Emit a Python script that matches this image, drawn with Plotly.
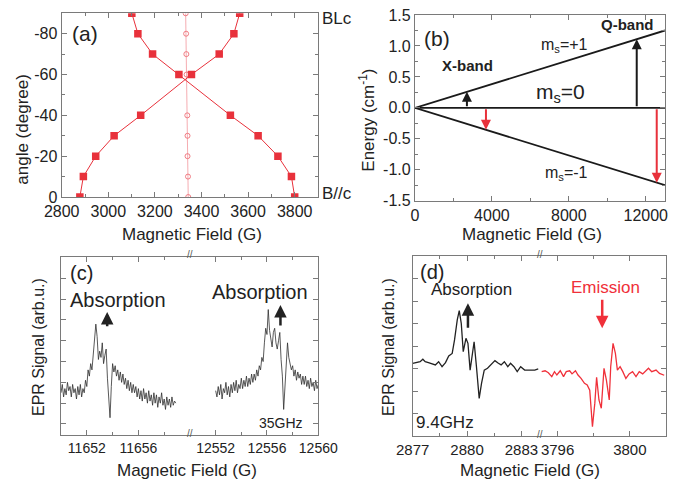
import plotly.graph_objects as go

# page body has an 8px margin: figure is placed at (8, 8) in the 685x481 window
OFF = 8
W, H = 685 - OFF, 481 - OFF
def px(x): return (x - OFF) / W
def py(y): return 1 - (y - OFF) / H

FONT = "Liberation Sans, Arial, sans-serif"
RED = "#e8313b"
AX = "#7a7a7a"
TXT = "#222222"

# ---------------- Panel (a) data ----------------
angle = [0, -10, -20, -30, -40, -60, -70, -80, -90]
field_branch1 = [2878, 2893, 2946, 3025, 3139, 3357, 3476, 3539, 3564]
field_branch2 = [3800, 3786, 3728, 3643, 3524, 3303, 3190, 3127, 3101]
field_center = [3343, 3342, 3340, 3340, 3339, 3336, 3335, 3334, 3332]
a_yticks = [0, -20, -40, -60, -80]
a_yticktext = ["0", "-20", "-40", "-60", "-80"]

# ---------------- Panel (b) data ----------------
b_field = [0, 13000]
e_plus = [0, 1.25]
e_zero = [0, 0]
e_minus = [0, -1.25]
xband_up = 2700
xband_down = 3690
qband_up = 11530
qband_down = 12570
b_yticks = [-1.5, -1.0, -0.5, 0.0, 0.5, 1.0, 1.5]
b_yticktext = ["-1.5", "-1.0", "-0.5", "0.0", "0.5", "1.0", "1.5"]

# ---------------- Panel (c) data (35 GHz) ----------------
c_left_field = [round(11650 + 0.1 * i, 1) for i in range(90)]
c_left_signal = [
    1.5, 1.9, 1.3, 1.7, 1.4, 2.0, 1.6, 1.8, 1.3, 1.9,
    1.5, 1.7, 1.2, 1.8, 1.4, 1.9, 1.3, 1.7, 1.5, 2.1,
    1.8, 2.6, 2.3, 2.9, 2.6, 3.4, 4.1, 4.8, 4.2, 3.1,
    3.5, 3.2, 3.9, 2.9, 3.3, 3.6, 2.2, 1.2, 0.3, 1.8,
    2.9, 2.5, 2.8, 2.3, 2.6, 2.1, 2.5, 2.0, 2.4, 1.9,
    2.2, 1.7, 2.1, 1.6, 2.0, 1.5, 1.9, 1.5, 1.8, 1.3,
    1.7, 1.2, 1.6, 1.1, 1.7, 1.2, 1.5, 1.0, 1.6, 1.1,
    1.4, 0.9, 1.5, 1.0, 1.4, 0.8, 1.3, 1.0, 1.5, 0.9,
    1.2, 0.7, 1.3, 0.9, 1.2, 0.8, 1.3, 0.9, 1.1, 1.0,
]
c_right_field = [round(12552 + 0.1 * i, 1) for i in range(81)]
c_right_signal = [
    1.6, 1.3, 1.8, 1.4, 1.9, 1.2, 1.7, 1.5, 2.0, 1.4,
    1.8, 1.3, 1.9, 1.5, 2.0, 1.6, 2.1, 1.5, 1.9, 1.7,
    2.2, 1.7, 2.1, 1.8, 2.3, 1.8, 2.2, 1.9, 2.4, 2.0,
    2.4, 2.1, 2.6, 2.3, 2.8, 2.6, 3.2, 3.0, 3.9, 4.6,
    4.3, 5.5, 4.5, 4.0, 3.7, 4.4, 4.6, 3.9, 3.6, 4.0,
    4.4, 3.1, 2.3, 0.7, 2.0, 3.3, 3.9, 3.2, 2.9, 2.6,
    2.8, 2.3, 2.6, 2.1, 2.5, 2.2, 2.4, 1.9, 2.3, 1.9,
    2.3, 1.8, 2.1, 1.7, 2.2, 1.8, 2.0, 1.6, 2.1, 1.7,
    1.9,
]
c_left_ticks = [11652, 11656]
c_right_ticks = [12552, 12556, 12560]
c_yticks = [0, 1, 2, 3, 4, 5, 6, 7, 8]

# ---------------- Panel (d) data (9.4 GHz) ----------------
d_abs_field = [2877.0, 2877.22, 2877.41, 2877.56, 2877.69, 2877.87, 2878.06, 2878.25,
               2878.43, 2878.62, 2878.81, 2878.99, 2879.18, 2879.31, 2879.46, 2879.57,
               2879.68, 2879.79, 2879.94, 2880.05, 2880.17, 2880.39, 2880.52, 2880.67,
               2880.80, 2880.95, 2881.13, 2881.32, 2881.54, 2881.73, 2881.88, 2882.06,
               2882.25, 2882.40, 2882.59, 2882.77, 2882.96, 2883.18, 2883.46, 2883.74,
               2883.93]
d_abs_signal = [3.23, 3.26, 3.30, 3.41, 3.30, 3.26, 3.20, 3.16,
                3.30, 3.08, 3.26, 3.56, 3.67, 4.27, 5.16, 5.57,
                5.01, 3.75, 4.34, 4.12, 2.93, 4.19, 3.08, 1.67,
                2.34, 2.93, 3.01, 3.16, 3.35, 3.23, 3.16, 3.30,
                3.08, 3.23, 3.08, 2.86, 3.08, 2.93, 2.93, 2.93,
                2.98]
d_em_field = [3795.12, 3795.31, 3795.49, 3795.68, 3795.83, 3795.96, 3796.15, 3796.33,
              3796.48, 3796.67, 3796.80, 3796.99, 3797.13, 3797.30, 3797.49, 3797.64,
              3797.78, 3797.93, 3798.06, 3798.16, 3798.29, 3798.42, 3798.57, 3798.70,
              3798.86, 3798.94, 3799.07, 3799.20, 3799.31, 3799.46, 3799.61, 3799.78,
              3799.96, 3800.15, 3800.34, 3800.52, 3800.71, 3800.89, 3801.03, 3801.21,
              3801.45, 3801.64, 3801.9]
d_em_signal = [2.86, 2.90, 2.81, 2.64, 2.86, 2.71, 2.90, 2.64,
               2.86, 2.90, 2.76, 2.90, 2.71, 2.56, 2.34, 2.27,
               2.04, 0.41, 1.45, 2.61, 1.60, 1.23, 3.01, 2.49,
               1.60, 3.08, 4.12, 3.67, 2.93, 3.08, 2.86, 2.56,
               2.76, 2.86, 2.64, 2.86, 2.76, 2.90, 3.01, 2.86,
               2.93, 2.78, 2.70]
d_left_ticks = [2877, 2880, 2883]
d_right_ticks = [3796, 3800]
d_yticks = [1, 2, 3, 4, 5, 6, 7]

fig = go.Figure()

# (a)
fig.add_trace(go.Scatter(x=field_center, y=angle, mode="lines+markers", xaxis="x", yaxis="y",
                         line=dict(color="#f4a3a8", width=0.9),
                         marker=dict(symbol="circle-open", size=5, color="#ee6f77", line=dict(width=0.9)),
                         showlegend=False))
for fb in (field_branch1, field_branch2):
    fig.add_trace(go.Scatter(x=fb, y=angle, mode="lines+markers", xaxis="x", yaxis="y",
                             line=dict(color=RED, width=1),
                             marker=dict(symbol="square", size=7.5, color=RED),
                             showlegend=False))

# (b)
for e in (e_plus, e_zero, e_minus):
    fig.add_trace(go.Scatter(x=b_field, y=e, mode="lines", xaxis="x2", yaxis="y2",
                             line=dict(color="#1a1a1a", width=1.8), showlegend=False))

# (c)
fig.add_trace(go.Scatter(x=c_left_field, y=c_left_signal, mode="lines", xaxis="x3", yaxis="y3",
                         line=dict(color="#2e2e2e", width=0.8), showlegend=False))
fig.add_trace(go.Scatter(x=c_right_field, y=c_right_signal, mode="lines", xaxis="x4", yaxis="y4",
                         line=dict(color="#2e2e2e", width=0.8), showlegend=False))

# (d)
fig.add_trace(go.Scatter(x=d_abs_field, y=d_abs_signal, mode="lines", xaxis="x5", yaxis="y5",
                         line=dict(color="#222222", width=1.3), showlegend=False))
fig.add_trace(go.Scatter(x=d_em_field, y=d_em_signal, mode="lines", xaxis="x6", yaxis="y6",
                         line=dict(color="#f0303a", width=1.3), showlegend=False))


def axstyle(size, **kw):
    d = dict(showline=True, linecolor=AX, linewidth=1.2, ticks="inside", ticklen=5,
             tickcolor=AX, tickwidth=1, showgrid=False, zeroline=False, automargin=False,
             tickformat="d", tickangle=0,
             tickfont=dict(size=size, color=TXT, family=FONT))
    d.update(kw)
    return d

def minor(dt, t0=0):
    return dict(ticks="inside", ticklen=3, tickcolor=AX, tickmode="linear", tick0=t0, dtick=dt,
                showgrid=False)

fig.update_layout(
    template="none",
    width=W, height=H, autosize=False,
    margin=dict(l=0, r=0, t=0, b=0, pad=0),
    paper_bgcolor="white", plot_bgcolor="white",
    font=dict(family=FONT, color=TXT),
    xaxis=axstyle(16, domain=[px(61.7), px(318)], anchor="y", range=[2800, 3900],
                  tick0=2800, dtick=200, minor=minor(100), mirror="ticks"),
    yaxis=axstyle(16, domain=[py(197), py(13.3)], anchor="x", range=[0, -90],
                  tickmode="array", tickvals=a_yticks, ticktext=a_yticktext,
                  minor=minor(10), mirror="ticks"),
    xaxis2=axstyle(16, domain=[px(415), px(665)], anchor="y2", range=[0, 13000],
                   tick0=0, dtick=4000, minor=minor(2000), mirror="ticks"),
    yaxis2=axstyle(16, domain=[py(200.7), py(15)], anchor="x2", range=[-1.5, 1.5],
                   tickmode="array", tickvals=b_yticks, ticktext=b_yticktext,
                   minor=minor(0.25), mirror="ticks"),
    xaxis3=axstyle(14, domain=[px(61), px(190)], anchor="y3", range=[11650, 11660],
                   tickmode="array", tickvals=c_left_ticks, minor=minor(2, 11650), mirror="ticks"),
    yaxis3=axstyle(14, domain=[py(435), py(256.7)], anchor="x3", range=[-0.53, 8.04],
                   tickmode="array", tickvals=c_yticks, showticklabels=False, mirror=False),
    xaxis4=axstyle(14, domain=[px(190), px(318.3)], anchor="y4", range=[12550, 12560],
                   tickmode="array", tickvals=c_right_ticks, minor=minor(2, 12550), mirror="ticks"),
    yaxis4=axstyle(14, domain=[py(435), py(256.7)], anchor="x4", side="right", range=[-0.53, 8.04],
                   tickmode="array", tickvals=c_yticks, showticklabels=False, mirror=False),
    xaxis5=axstyle(15, domain=[px(412.7), px(539.5)], anchor="y5", range=[2877, 2884],
                   tickmode="array", tickvals=d_left_ticks, minor=minor(1.5, 2877), mirror="ticks"),
    yaxis5=axstyle(15, domain=[py(436), py(256)], anchor="x5", range=[0, 8],
                   tickmode="array", tickvals=d_yticks, showticklabels=False, mirror=False),
    xaxis6=axstyle(15, domain=[px(539.5), px(666)], anchor="y6", range=[3795, 3802],
                   tickmode="array", tickvals=d_right_ticks, minor=minor(2, 3796), mirror="ticks"),
    yaxis6=axstyle(15, domain=[py(436), py(256)], anchor="x6", side="right", range=[0, 8],
                   tickmode="array", tickvals=d_yticks, showticklabels=False, mirror=False),
)

ann = []
def text(x, y, s, size, color=TXT, angle=0, bold=False):
    ann.append(dict(x=px(x), y=py(y), xref="paper", yref="paper",
                    text=("<b>%s</b>" % s if bold else s),
                    showarrow=False, xanchor="center", yanchor="middle", textangle=angle,
                    font=dict(size=size, color=color, family=FONT)))

# Panel (a) text
text(85, 33, "(a)", 21)
text(21.7, 129, "angle (degree)", 17, angle=-90)
text(191.7, 234, "Magnetic Field (G)", 17)
text(337, 18, "BLc", 17)
text(337, 193.3, "B//c", 17)

# Panel (b) text
text(436.7, 38.3, "(b)", 21)
text(366.7, 120, "Energy (cm<sup>-1</sup>)", 17, angle=-90)
text(531.7, 234, "Magnetic Field (G)", 17)
text(467, 65.7, "X-band", 15, bold=True)
text(627.3, 24, "Q-band", 15, bold=True)
text(564, 45, "m<sub>s</sub>=+1", 16)
text(560, 93.3, "m<sub>s</sub>=0", 21)
text(566.7, 173.3, "m<sub>s</sub>=-1", 16)

# Panel (c) text
text(81.7, 273.3, "(c)", 20)
text(118.3, 300, "Absorption", 20)
text(260, 292, "Absorption", 20)
text(281, 422.7, "35GHz", 14)
text(38.3, 346.7, "EPR Signal (arb.u.)", 16, angle=-90)
text(186.7, 470, "Magnetic Field (G)", 17)
text(190, 254.5, "//", 10, color="#555555")
text(190, 433.5, "//", 10, color="#555555")

# Panel (d) text
text(431.7, 271.7, "(d)", 20)
text(471.7, 289.3, "Absorption", 17)
text(605, 287.3, "Emission", 17, color="#f0303a")
text(445, 422.7, "9.4GHz", 17)
text(388.3, 346.7, "EPR Signal (arb.u.)", 16, angle=-90)
text(530, 470, "Magnetic Field (G)", 17)
text(539.5, 254, "//", 10, color="#555555")
text(539.5, 434.5, "//", 10, color="#555555")

# arrows
def arrow(xr, yr, x, y_from, y_to, color, width=2):
    ann.append(dict(x=x, y=y_to, ax=x, ay=y_from, xref=xr, yref=yr, axref=xr, ayref=yr,
                    showarrow=True, arrowhead=2, arrowsize=1, arrowwidth=width,
                    arrowcolor=color, text=""))

slope = e_plus[1] / b_field[1]
arrow("x2", "y2", xband_up, 0, slope * xband_up, "#1a1a1a")
arrow("x2", "y2", xband_down, 0, -slope * xband_down, RED)
arrow("x2", "y2", qband_up, 0, slope * qband_up, "#1a1a1a")
arrow("x2", "y2", qband_down, 0, -slope * qband_down, RED)

arrow("x3", "y3", 11653.58, 4.62, 5.38, "#222222", 2.5)
arrow("x4", "y4", 12557.05, 4.66, 5.72, "#222222", 2.5)
arrow("x5", "y5", 2880.05, 4.74, 5.90, "#222222", 2.5)
arrow("x6", "y6", 3798.47, 6.12, 4.79, "#f0303a", 2.5)

fig.update_layout(annotations=ann)
fig.write_html("out.html")
